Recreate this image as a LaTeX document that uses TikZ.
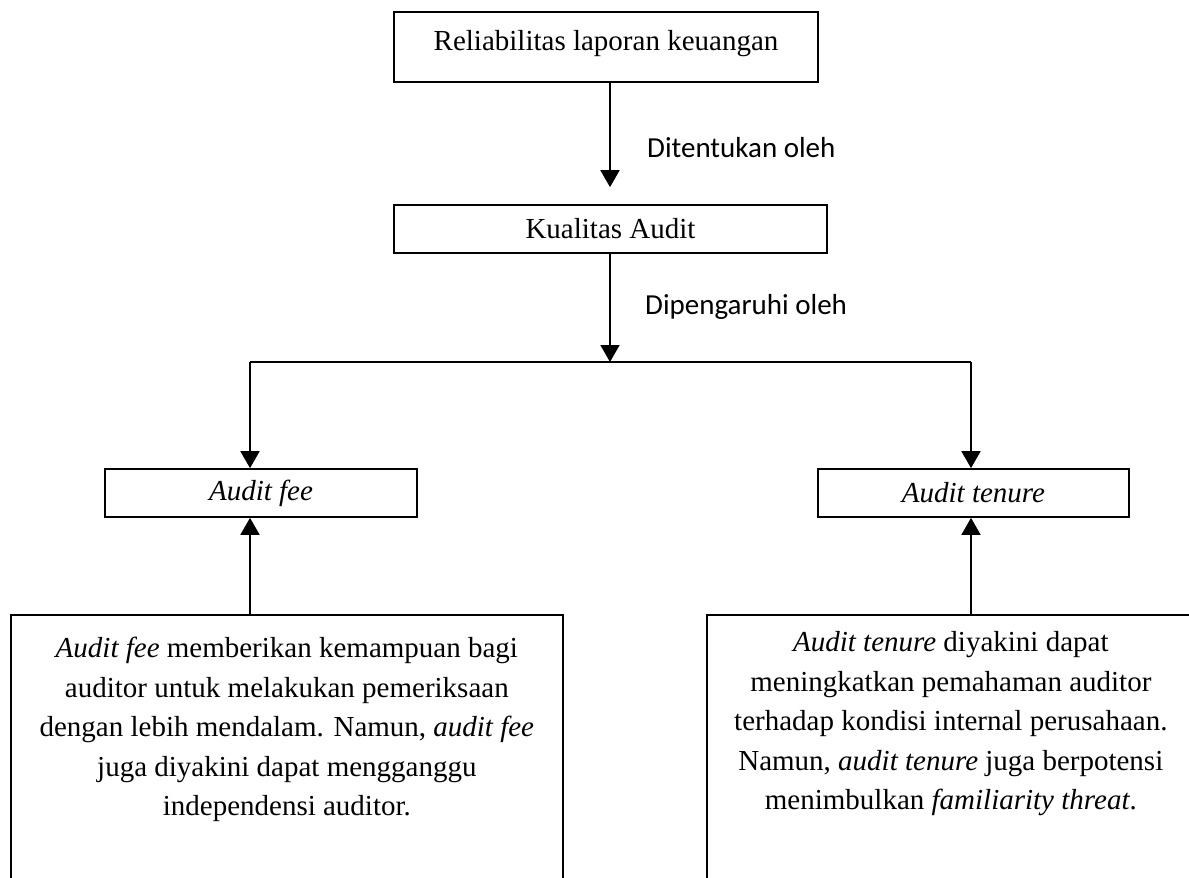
\documentclass[tikz,border=0pt]{standalone}
\usepackage{fontspec}
\setmainfont{Liberation Serif}
\newfontfamily\calibri{Carlito}
\usetikzlibrary{arrows.meta}
\newcommand{\descpar}[2]{\parbox[t]{#1}{\fontsize{29}{39.5}\selectfont\centering #2\par}}
\begin{document}
\begin{tikzpicture}[x=1pt,y=-1pt,
  every node/.style={font=\fontsize{29}{39.5}\selectfont},
  box/.style={draw, line width=1.7pt, inner sep=0pt},
  descbox/.style={draw, line width=1.7pt, inner sep=0pt, text depth=300pt, anchor=north west},
  lbl/.style={font=\calibri\fontsize{29}{35}\selectfont, anchor=base west, inner sep=0pt},
  conn/.style={line width=1.7pt},
  arr/.style={line width=1.7pt, -{Triangle[width=19pt,length=17pt]}}]
\useasboundingbox (0,0) rectangle (1189,878);
\clip (0,0) rectangle (1189,878);
\fill[white] (0,0) rectangle (1189,878);

\node[box, minimum width=424pt, minimum height=70pt, text height=20pt, text depth=14pt] (top) at (606,47) {Reliabilitas laporan keuangan};
\node[box, minimum width=433pt, minimum height=48pt] (kual) at (610.5,229) {Kualitas Audit};
\node[box, minimum width=312pt, minimum height=48pt] (fee) at (261,493) {\textit{Audit fee}};
\node[box, minimum width=311pt, minimum height=48pt] (ten) at (973.5,493) {\textit{Audit tenure}};

\node[descbox, text height=43pt] (feed) at (10,614) {\descpar{552pt}{\textit{Audit fee} memberikan kemampuan bagi\\ auditor untuk melakukan pemeriksaan\\ dengan lebih mendalam. Namun, \textit{audit fee}\\ juga diyakini dapat mengganggu\\ independensi auditor.}};
\node[descbox, text height=37pt] (tend) at (706,614) {\descpar{488pt}{\textit{Audit tenure} diyakini dapat\\ meningkatkan pemahaman auditor\\ terhadap kondisi internal perusahaan.\\ Namun, \textit{audit tenure} juga berpotensi\\ menimbulkan \textit{familiarity threat}.}};

\node[lbl] (l1) at (647,157) {Ditentukan oleh};
\node[lbl] (l2) at (645,314) {Dipengaruhi oleh};

\coordinate (split) at (610,362);
\coordinate (lc) at (250,362);
\coordinate (rc) at (971,362);

\draw[arr, shorten >=17pt] (split |- top.south) -- (split |- kual.north);
\draw[arr] (split |- kual.south) -- (split);
\draw[conn] (lc) -- (rc);
\draw[arr] (lc) -- (lc |- fee.north);
\draw[arr] (rc) -- (rc |- ten.north);
\draw[arr] (lc |- feed.north) -- (lc |- fee.south);
\draw[arr] (rc |- tend.north) -- (rc |- ten.south);
\end{tikzpicture}
\end{document}
